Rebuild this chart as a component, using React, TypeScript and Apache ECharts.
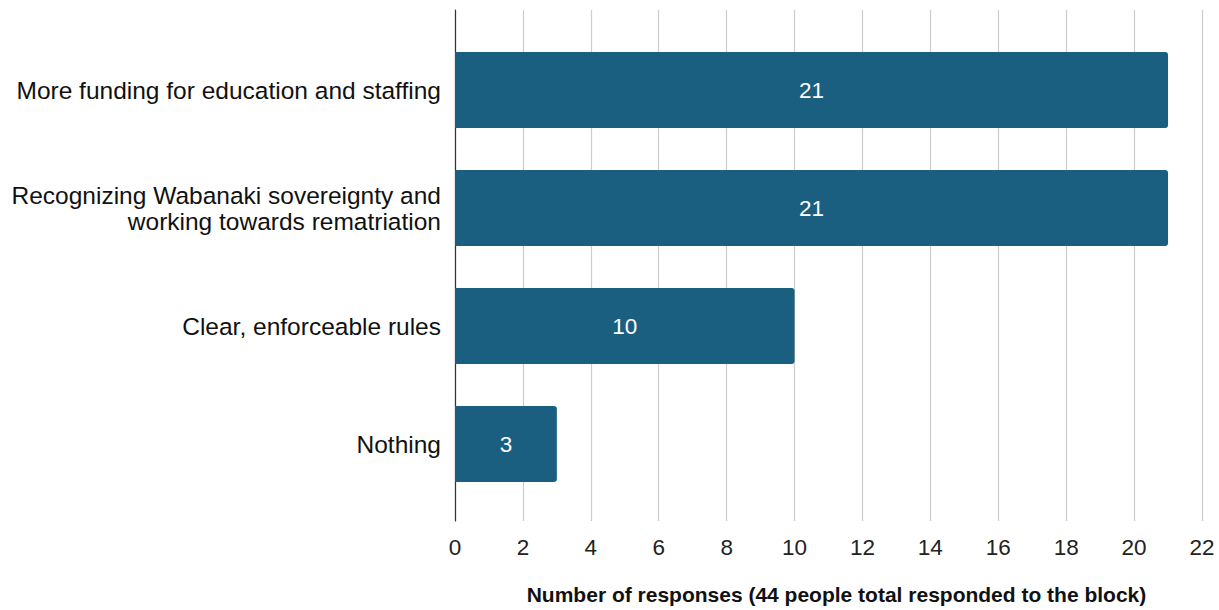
import React, { useEffect, useRef } from "react";
import * as echarts from "echarts";

const categories = [
  "More funding for education and staffing",
  "Recognizing Wabanaki sovereignty and\nworking towards rematriation",
  "Clear, enforceable rules",
  "Nothing",
];
const values = [21, 21, 10, 3];
const xMin = 0;
const xMax = 22;
const xInterval = 2;
const xAxisName = "Number of responses (44 people total responded to the block)";

const FONT = "'Liberation Sans', Arial, Helvetica, sans-serif";

export default function App() {
  const ref = useRef<HTMLDivElement>(null);
  useEffect(() => {
    if (!ref.current) return;
    const chart = echarts.init(ref.current, undefined, { renderer: "svg" });
    chart.setOption({
      animation: false,
      backgroundColor: "#ffffff",
      textStyle: { fontFamily: FONT },
      grid: [
        { left: 455, right: 17, top: 31, bottom: 107 },
        { left: 455, right: 17, top: 10, bottom: 87 },
      ],
      xAxis: [
        { gridIndex: 0, type: "value", min: xMin, max: xMax, interval: xInterval, show: false },
        {
          gridIndex: 1,
          type: "value",
          min: xMin,
          max: xMax,
          interval: xInterval,
          axisLine: { show: false },
          axisTick: { show: false },
          splitLine: { show: true, lineStyle: { color: "#cccccc", width: 1.2 } },
          axisLabel: { fontSize: 22.5, color: "#222222", margin: 15, fontFamily: FONT },
          name: xAxisName,
          nameLocation: "middle",
          nameGap: 63,
          nameTextStyle: {
            fontSize: 21,
            fontWeight: "bold",
            color: "#111111",
            fontFamily: FONT,
            padding: [0, 0, 0, 16],
          },
        },
      ],
      yAxis: [
        {
          gridIndex: 0,
          type: "category",
          data: categories,
          inverse: true,
          axisLine: { show: false },
          axisTick: { show: false },
          splitLine: { show: false },
          axisLabel: {
            fontSize: 24.5,
            color: "#111111",
            margin: 14,
            align: "right",
            lineHeight: 26,
            fontFamily: FONT,
          },
        },
        {
          gridIndex: 1,
          type: "value",
          min: 0,
          max: 1,
          axisLine: { show: true, lineStyle: { color: "#333333", width: 1.2 } },
          axisTick: { show: false },
          axisLabel: { show: false },
          splitLine: { show: false },
        },
      ],
      series: [
        {
          type: "bar",
          xAxisIndex: 0,
          yAxisIndex: 0,
          data: values,
          barWidth: 76,
          itemStyle: { color: "#1a5e80", borderRadius: [0, 3, 3, 0] },
          label: {
            show: true,
            position: "inside",
            color: "#ffffff",
            fontSize: 22.5,
            fontFamily: FONT,
          },
        },
      ],
    });
    return () => chart.dispose();
  }, []);
  return <div ref={ref} style={{ width: 1219, height: 610, position: "absolute", left: 0, top: 0 }} />;
}
